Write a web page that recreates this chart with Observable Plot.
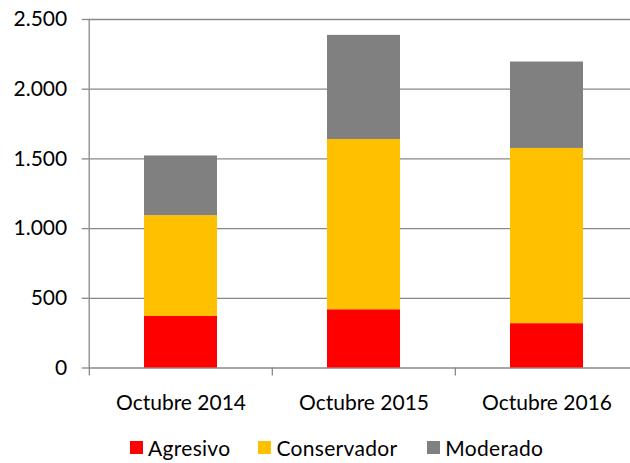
<!DOCTYPE html>
<html>
<head>
<meta charset="utf-8">
<script src="https://cdn.jsdelivr.net/npm/d3@7"></script>
<script src="https://cdn.jsdelivr.net/npm/@observablehq/plot@0.6"></script>
<style>
  html, body { margin: 0; padding: 0; background: #fff; }
  #wrap { position: relative; width: 630px; height: 463px; overflow: hidden; font-family: Lato, sans-serif; }
  #legend { position: absolute; left: 130px; top: 435px; display: flex; gap: 0; font-size: 21px; color: #000; letter-spacing: 0.3px; }
  .item { display: flex; align-items: center; }
  .sw { width: 13px; height: 13px; margin-right: 5px; }
</style>
</head>
<body>
<div id="wrap"><div id="chart"></div><div id="legend"></div></div>
<script>
const categories = ["Octubre 2014", "Octubre 2015", "Octubre 2016"];
const series = ["Agresivo", "Conservador", "Moderado"];
const agresivo = [370, 418, 318];
const conservador = [723, 1221, 1257];
const moderado = [428, 747, 620];
const yTicks = [0, 500, 1000, 1500, 2000, 2500];
const colors = ["#ff0000", "#ffc000", "#808080"];

const values = {Agresivo: agresivo, Conservador: conservador, Moderado: moderado};
const data = categories.flatMap((c, i) => series.map(s => ({cat: c, serie: s, v: values[s][i]})));

const fmt = d3.formatLocale({decimal: ",", thousands: ".", grouping: [3], currency: ["", ""]}).format(",");
const grid = "#888";
const xRange = [88.7, 638.7];
const step = (xRange[1] - xRange[0]) / categories.length;

const chart = Plot.plot({
  width: 630,
  height: 425,
  marginLeft: 88.7,
  marginRight: 0,
  marginTop: 19,
  marginBottom: 57.5,
  style: {fontFamily: "Lato, sans-serif", fontSize: "21px", color: "#000", background: "#fff"},
  x: {domain: categories, range: xRange, paddingInner: 0.603, paddingOuter: 0.3015, axis: null, label: null},
  y: {domain: [0, 2500], axis: null, label: null},
  color: {domain: series, range: colors},
  marks: [
    Plot.ruleY(yTicks, {stroke: grid, strokeWidth: 1.3}),
    Plot.barY(data, {x: "cat", y: "v", fill: "serie"}),
    Plot.axisY({ticks: yTicks, tickFormat: fmt, tickSize: 7, tickPadding: 15, stroke: grid, strokeWidth: 1.3, fill: "#000", fontSize: 21, label: null}),
    Plot.frame({anchor: "left", stroke: grid, strokeWidth: 1.3}),
    Plot.axisX({tickSize: 0, tickPadding: 27, fill: "#000", fontSize: 21, label: null}),
    Plot.axisX({tickSize: 8, tickFormat: () => "", dx: -step / 2, stroke: grid, strokeWidth: 1.3, label: null})
  ]
});
document.getElementById("chart").appendChild(chart);

const legend = document.getElementById("legend");
const gaps = [28, 30, 0];
series.forEach((s, i) => {
  const it = document.createElement("div");
  it.className = "item";
  it.style.marginRight = gaps[i] + "px";
  const sw = document.createElement("span");
  sw.className = "sw";
  sw.style.background = colors[i];
  const t = document.createElement("span");
  t.textContent = s;
  it.appendChild(sw); it.appendChild(t);
  legend.appendChild(it);
});
</script>
</body>
</html>
